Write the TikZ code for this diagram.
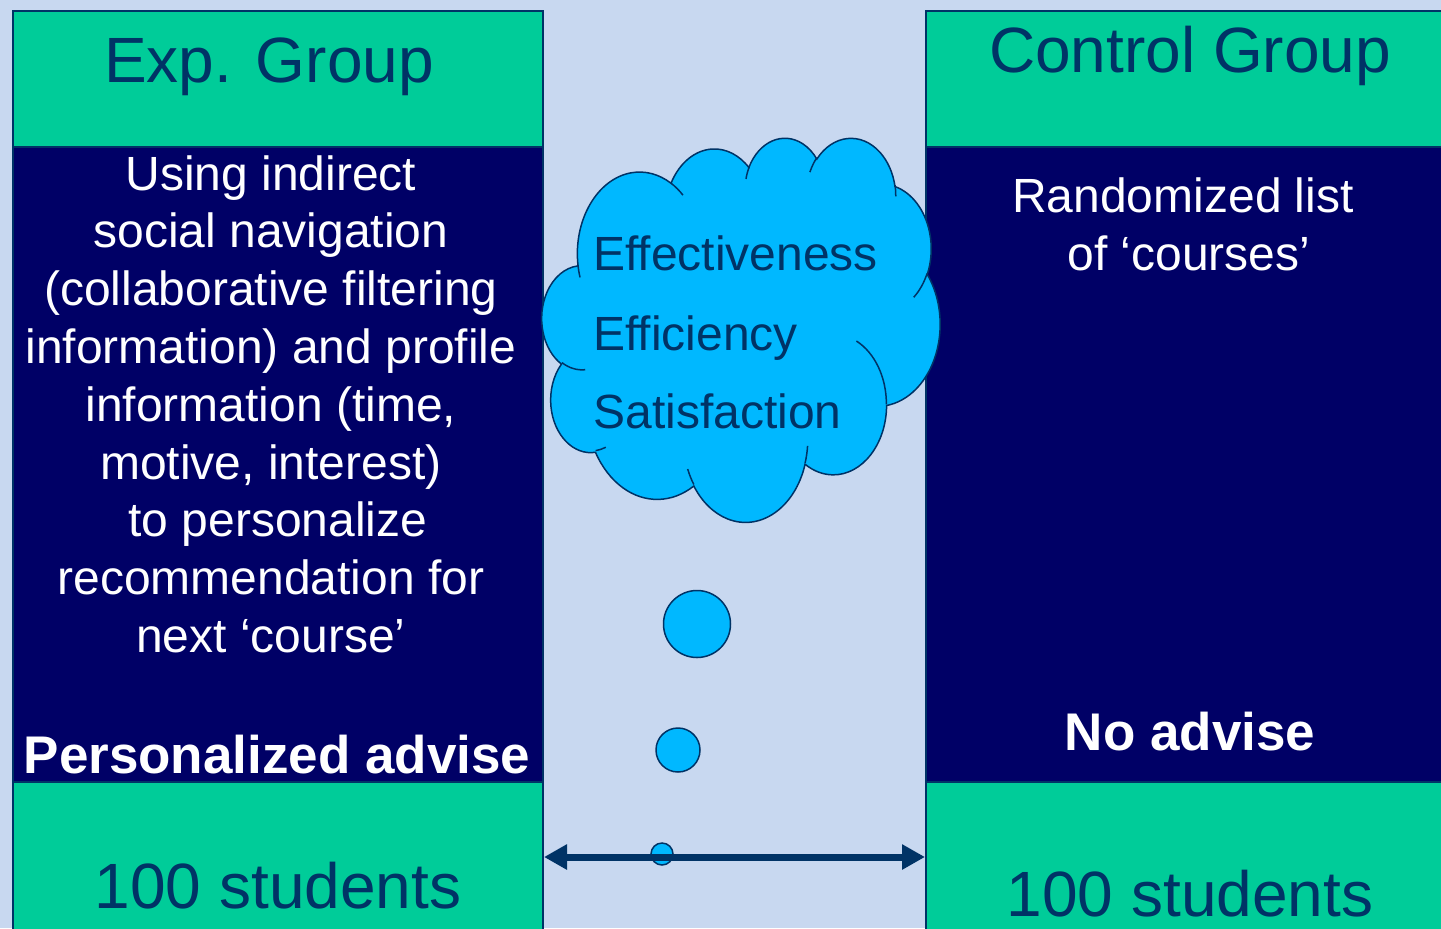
\documentclass[tikz,border=0pt]{standalone}
\usepackage{fontspec}
\setmainfont{Liberation Sans}
\usetikzlibrary{arrows.meta}

\definecolor{slidebg}{HTML}{C8D8F0}
\definecolor{groupgreen}{HTML}{00CC99}
\definecolor{groupnavy}{HTML}{000066}
\definecolor{titleblue}{HTML}{003366}
\definecolor{cloudfill}{HTML}{00B8FF}

% parametric angles of one cloud arc: x radius, y radius, start, sweep
\newcommand\cloudangles[4]{%
  \pgfmathsetmacro\cloudA{atan2((#1)*sin(#3),(#2)*cos(#3))}%
  \pgfmathsetmacro\cloudB{atan2((#1)*sin(#3+#4),(#2)*cos(#3+#4))}%
  \pgfmathsetmacro\cloudB{\cloudB<\cloudA ? \cloudB+360 : \cloudB}%
}

\tikzset{
  groupbox/.style={draw=titleblue, line width=1pt, inner sep=0pt, anchor=north west},
  headbox/.style={groupbox, fill=groupgreen, minimum height=68pt},
  bodybox/.style={groupbox, fill=groupnavy, minimum height=317.5pt},
  footbox/.style={groupbox, fill=groupgreen, minimum height=80pt},
  grouptitle/.style={anchor=base, inner sep=0pt, text=titleblue, font=\fontsize{32pt}{38pt}\selectfont},
  bodytext/.style={anchor=base, inner sep=0pt, text=white, font=\fontsize{24pt}{29pt}\selectfont},
  verdict/.style={anchor=base, inner sep=0pt, text=white, font=\fontsize{26.5pt}{32pt}\selectfont\bfseries},
  measure/.style={anchor=base west, inner sep=0pt, text=titleblue, font=\fontsize{24pt}{29pt}\selectfont},
  thought/.style={draw=titleblue, line width=0.75pt, fill=cloudfill},
  bubble/.style={thought, circle, inner sep=0pt},
  twoway/.style={{Triangle[length=11.5pt,width=12pt]}-{Triangle[length=11.5pt,width=12pt]}, line width=3.5pt, draw=titleblue},
}

\begin{document}
\begin{tikzpicture}[x=0.5pt, y=-0.5pt]
    \useasboundingbox (0,0) rectangle (1441,928);
    \clip (0,0) rectangle (1441,928);
    \fill[slidebg] (0,0) rectangle (1441,928);  % slide background

    % experimental group column
    \node[headbox, minimum width=265pt] (exphead) at (12,10) {};
    \node[bodybox, minimum width=265pt] (expbody) at (12,146) {};
    \node[footbox, minimum width=265pt] (expfoot) at (12,781) {};

    % control group column
    \node[headbox, minimum width=262.5pt] (ctlhead) at (925,10) {};
    \node[bodybox, minimum width=262.5pt] (ctlbody) at (925,146) {};
    \node[footbox, minimum width=262.5pt] (ctlfoot) at (925,781) {};

    % titles
    \node[grouptitle] (exptitle) at (269,82) {Exp. Group};
    \node[grouptitle] (ctltitle) at (1190,72) {Control Group};

    % description of the experimental condition, one node per line
    \foreach [count=\i] \ln/\dx in {Using indirect/0, social navigation/0, {(collaborative filtering}/0,
        {information) and profile}/0, {information (time,}/0, {motive, interest)}/0,
        to personalize/7, recommendation for/0, next ‘course’/0}
        \node[bodytext] (expline\i) at (271+\dx,{190+57.8*(\i-1)}) {\ln};

    % description of the control condition
    \node[bodytext] (ctlline1) at (1183,212) {Randomized list};
    \node[bodytext] (ctlline2) at (1189,270) {of ‘courses’};

    \node[verdict] (expadvise) at (277,773) {Personalized advise};
    \node[verdict] (ctladvise) at (1190,750) {No advise};

    \node[grouptitle] (expsize) at (278,908) {100 students};
    \node[grouptitle] (ctlsize) at (1190,916) {100 students};

    % thought cloud
    \begin{scope}[shift={(542,137)}, xscale=0.9213, yscale=0.8889]
        \draw[thought] (39,143.7)
            \foreach \rx/\ry/\st/\sw in {67.53/91.90/-190.4875/123.7805, 53.33/72.67/-144.1024/89.9452,
                43.65/59.45/-145.8079/99.7230, 48.57/65.95/-130.9861/117.2417,
                53.33/72.73/-78.7089/109.0269, 67.75/92.20/-46.2673/130.2690,
                57.85/78.67/0.6250/114.0333, 67.52/92.15/22.4516/115.1726,
                77.20/105.43/66.2426/75.7110, 43.60/59.18/-274.9421/146.7356,
                43.45/59.45/-246.8285/152.5189}
            {\pgfextra{\cloudangles{\rx}{\ry}{\st}{\sw}}
             arc[start angle=\cloudA, end angle=\cloudB, x radius=\rx, y radius=\ry]} -- cycle;
        % inner puff lines
        \foreach \mx/\my/\rx/\ry/\st/\sw in {46.93/261.77/43.45/59.45/86.7420/26.4295,
            69.28/348.99/43.60/59.18/73.6105/11.4475, 164.78/390.90/67.52/92.15/137.6242/14.0811,
            288.27/347.51/67.52/92.15/6.4533/15.9984, 341.29/229.54/57.85/78.67/-70.2924/70.9174,
            417.98/153.54/53.33/72.73/30.3180/27.7515, 383.24/54.26/48.57/65.95/-13.7443/14.8589,
            290.78/39.52/48.57/65.95/-149.1815/18.1954, 221.41/47.20/43.65/59.45/-163.4943/17.6864,
            140.00/51.92/67.53/91.90/-66.7070/12.3194, 41.27/157.89/67.53/91.90/157.6544/11.8582}
            \draw[thought, fill=none] (\mx,\my) \pgfextra{\cloudangles{\rx}{\ry}{\st}{\sw}}
                arc[start angle=\cloudA, end angle=\cloudB, x radius=\rx, y radius=\ry];
    \end{scope}

    \node[measure] (effect) at (593,270) {Effectiveness};
    \node[measure] (effic) at (593,350) {Efficiency};
    \node[measure] (satis) at (593,428) {Satisfaction};

    % trail of bubbles
    \node[bubble, minimum width=33.5pt, minimum height=32.5pt] (bubble1) at (697,624) {};
    \node[bubble, minimum size=22pt] (bubble2) at (678,750) {};
    \node[bubble, minimum size=11pt] (bubble3) at (662,854) {};

    \draw[twoway] ([yshift=-38pt]expfoot.north east) -- ([yshift=-38pt]ctlfoot.north west);  % comparison
\end{tikzpicture}
\end{document}
